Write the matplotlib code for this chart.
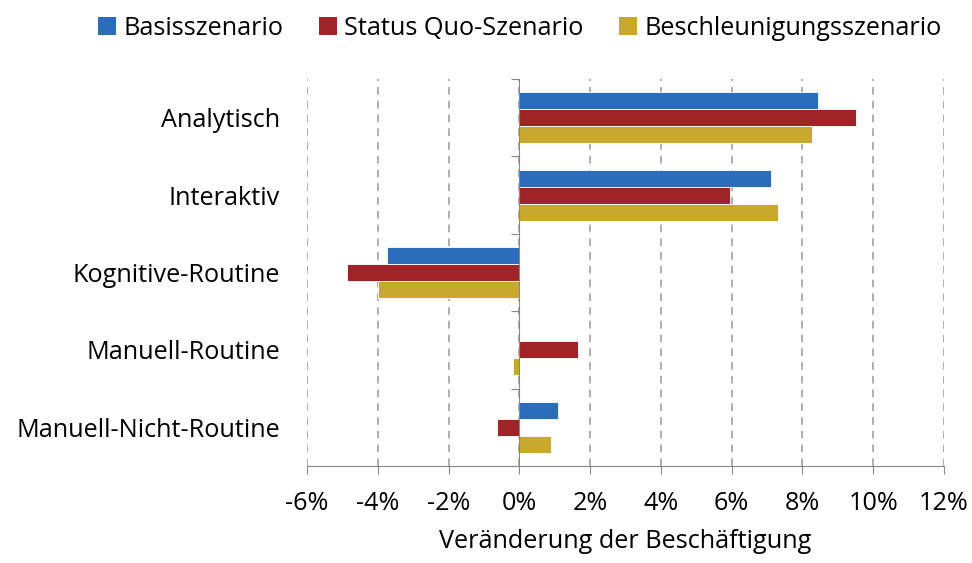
import matplotlib
matplotlib.use("Agg")
import matplotlib.pyplot as plt
import numpy as np
from matplotlib.patches import Patch

plt.rcParams['font.family'] = ['Open Sans', 'DejaVu Sans']

categories = ["Analytisch", "Interaktiv", "Kognitive-Routine", "Manuell-Routine", "Manuell-Nicht-Routine"]
series_names = ["Basisszenario", "Status Quo-Szenario", "Beschleunigungsszenario"]
basis = [8.45, 7.12, -3.73, 0.0, 1.09]
status_quo = [9.51, 5.94, -4.86, 1.66, -0.62]
beschleunigung = [8.26, 7.32, -4.0, -0.17, 0.89]
colors = ["#2A6DBA", "#9E2427", "#C9A82E"]
xticks = [-6, -4, -2, 0, 2, 4, 6, 8, 10, 12]

fs = 18.2

fig = plt.figure(figsize=(9.72, 5.63), dpi=100)
ax = fig.add_axes([307/972, 1-466/563, (944-307)/972, (466-79)/563])

y = np.arange(len(categories))
h = 0.22
for i, (vals, c) in enumerate(zip([basis, status_quo, beschleunigung], colors)):
    ax.barh(y + (i - 1) * h, vals, height=h, color=c, edgecolor="white", linewidth=0.6, zorder=3)

ax.set_xlim(-6, 12)
ax.set_ylim(len(categories) - 0.5, -0.5)
ax.set_xticks(xticks)
ax.set_xticklabels([f"{t}%" for t in xticks], fontsize=fs)
ax.tick_params(axis="x", length=6, color="#888888", pad=12)
ax.grid(axis="x", linestyle=(0, (5, 4)), color="#999999", linewidth=1.1, zorder=0)

ax.spines["top"].set_visible(False)
ax.spines["right"].set_visible(False)
ax.spines["bottom"].set_color("#888888")
ax.spines["left"].set_position(("data", 0))
ax.spines["left"].set_color("#888888")
ax.spines["left"].set_zorder(4)
ax.set_yticks(np.arange(len(categories) + 1) - 0.5)
ax.set_yticklabels([])
ax.tick_params(axis="y", length=6, color="#888888")

for yi, cat in zip(y, categories):
    ax.text(-0.042, yi + 0.04, cat, transform=ax.get_yaxis_transform(), ha="right", va="center", fontsize=fs)

ax.set_xlabel("Veränderung der Beschäftigung", fontsize=fs, labelpad=9)

handles = [Patch(facecolor=c, edgecolor="none") for c in colors]
fig.legend(handles, series_names, loc="upper center", bbox_to_anchor=(0.535, 1.012), ncol=3,
           frameon=False, fontsize=fs, handlelength=0.7, handleheight=0.7, handletextpad=0.3,
           columnspacing=1.4)

fig.savefig("out.png", dpi=100)
